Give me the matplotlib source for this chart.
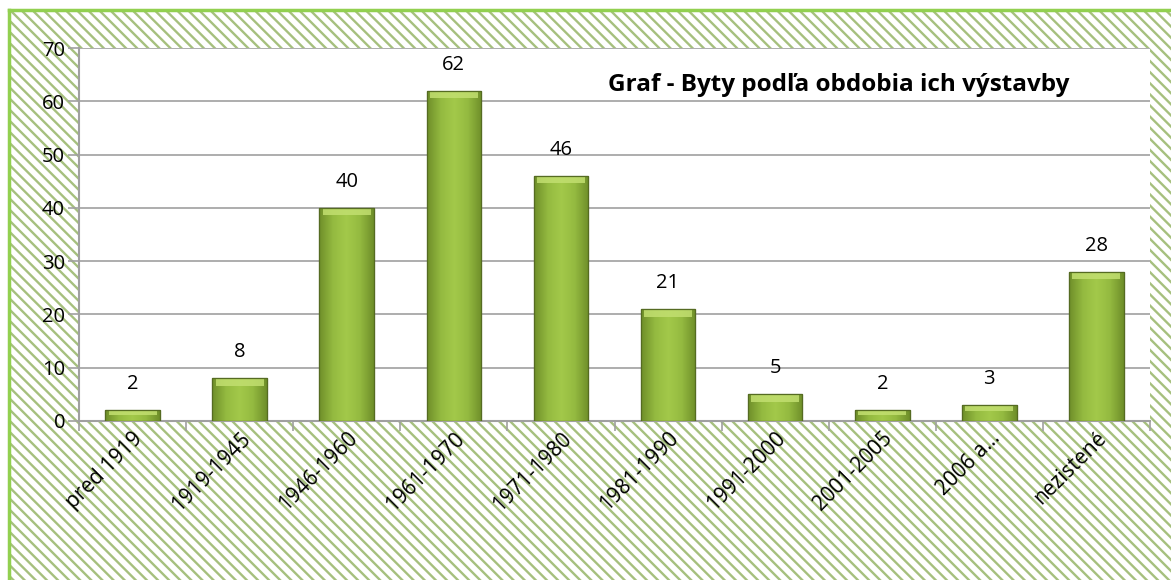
import matplotlib
matplotlib.use('Agg')
import matplotlib.pyplot as plt
import numpy as np
from matplotlib.patches import Rectangle
from matplotlib.colors import LinearSegmentedColormap

# data
categories = ['pred 1919', '1919-1945', '1946-1960', '1961-1970', '1971-1980',
              '1981-1990', '1991-2000', '2001-2005', '2006 a…', 'nezistené']
values = [2, 8, 40, 62, 46, 21, 5, 2, 3, 28]
title = 'Graf - Byty podľa obdobia ich výstavby'

plt.rcParams['font.family'] = ['Open Sans', 'DejaVu Sans']
plt.rcParams['hatch.linewidth'] = 1.7

fig = plt.figure(figsize=(11.71, 5.8), dpi=100)
fig.patch.set_facecolor('white')

# hatched chart background with green frame
bg = Rectangle((10 / 1171, 0), 1.0, 1 - 10 / 580, transform=fig.transFigure,
               facecolor='white', edgecolor='#a6c07e', linewidth=0, hatch='\\\\\\', zorder=0)
fig.add_artist(bg)
fig.add_artist(plt.Line2D([9 / 1171, 9 / 1171], [0, 1 - 10 / 580], transform=fig.transFigure,
                          color='#92d050', lw=2.5))
fig.add_artist(plt.Line2D([9 / 1171, 1], [1 - 10 / 580, 1 - 10 / 580], transform=fig.transFigure,
                          color='#92d050', lw=2.5))

ax = fig.add_axes([79 / 1171, 159 / 580, 1071 / 1171, 373 / 580])
ax.set_facecolor('white')
ax.set_xlim(-0.5, len(categories) - 0.5)
ax.set_ylim(0, 70)

x = np.arange(len(categories))
bars = ax.bar(x, values, width=0.51, color='#8fb43c', edgecolor='#556b22', linewidth=0.8, zorder=3)

# bevel-like gradient on each bar
cmap = LinearSegmentedColormap.from_list('bev', ['#6f8f2a', '#94ba40', '#a3c94a', '#94ba40', '#6f8f2a'])
grad = np.linspace(0, 1, 64).reshape(1, -1)
for b in bars:
    x0, y0 = b.get_x(), b.get_y()
    w, h = b.get_width(), b.get_height()
    im = ax.imshow(grad, cmap=cmap, extent=(x0, x0 + w, y0, y0 + h), aspect='auto', zorder=3.5,
                   interpolation='bicubic')
    im.set_clip_path(b)
    top = min(1.4, h * 0.4)
    ax.add_patch(Rectangle((x0 + w * 0.06, y0 + h - top), w * 0.88, top * 0.85,
                           facecolor='#c2df70', edgecolor='none', alpha=0.85, zorder=3.6))
    ax.add_patch(Rectangle((x0, y0), w, h, facecolor='none', edgecolor='#556b22', lw=0.9, zorder=3.8))

for xi, v in zip(x, values):
    ax.text(xi, v + 3.0, str(v), ha='center', va='bottom', fontsize=14.5, color='black', zorder=5)

ax.set_yticks(range(0, 71, 10))
ax.yaxis.grid(True, color='#a0a0a0', linewidth=1.2, zorder=1)
ax.set_axisbelow(True)
ax.tick_params(axis='y', labelsize=14.5, length=8, color='#a0a0a0', width=1.2, pad=2)

ax.set_xticks(x)
ax.set_xticklabels(categories, rotation=45, ha='right', rotation_mode='anchor', fontsize=15)
ax.tick_params(axis='x', which='major', length=0, pad=5)
ax.set_xticks(np.arange(-0.5, len(categories) + 0.5, 1), minor=True)
ax.tick_params(axis='x', which='minor', length=7, color='#a0a0a0', width=1.2)

for s in ['top', 'right']:
    ax.spines[s].set_visible(False)
for s in ['left', 'bottom']:
    ax.spines[s].set_color('#a0a0a0')
    ax.spines[s].set_linewidth(1.5)

ax.text(0.709, 0.901, title, transform=ax.transAxes, ha='center', va='center',
        fontsize=17.5, fontweight='bold', color='black', zorder=6)

fig.savefig('out.png', dpi=100)
